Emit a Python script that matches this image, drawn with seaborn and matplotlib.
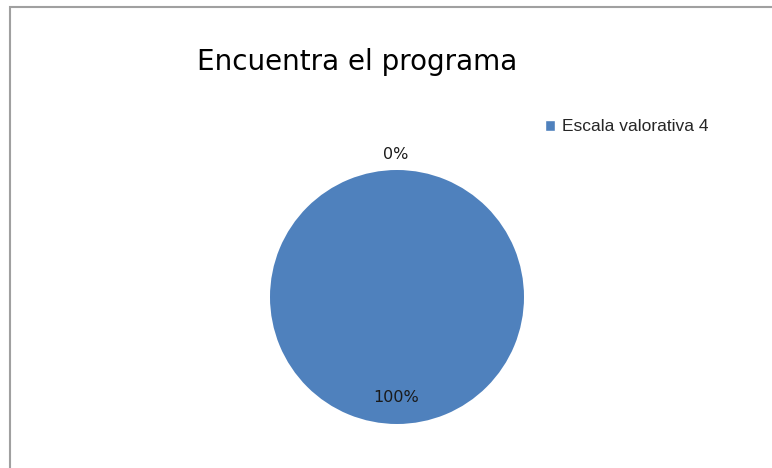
import numpy as np
import matplotlib
matplotlib.use("Agg")
import matplotlib.pyplot as plt
import seaborn as sns
from matplotlib.patches import Rectangle

title = "Encuentra el programa"
categories = ["Escala valorativa 3", "Escala valorativa 4"]
values = [0, 100]
legend_shown = ["Escala valorativa 4"]
pct_labels = ["0%", "100%"]

sns.set_theme(style="white")
plt.rcParams['font.family'] = ['DejaVu Sans']

W, H = 772, 468
fig = plt.figure(figsize=(W / 100, H / 100), dpi=100)
fig.patch.set_facecolor("white")

# chart border
fig.add_artist(Rectangle((10 / W, -0.1), 1.2, (H - 7) / H + 0.1, transform=fig.transFigure,
                         fill=False, edgecolor="#a0a0a0", linewidth=1.5))

cx, cy, r = 397, 297, 127
ax = fig.add_axes([(cx - r) / W, (H - cy - r) / H, 2 * r / W, 2 * r / H])
color = "#4f81bd"
wedges, _ = ax.pie(values, colors=["#c0504d", color], startangle=90, counterclock=False,
                   radius=1.0, wedgeprops=dict(linewidth=0))
ax.set_xlim(-1, 1)
ax.set_ylim(-1, 1)
ax.set_aspect("equal")
ax.axis("off")

for w, lab, v in zip(wedges, pct_labels, values):
    ang = np.deg2rad((w.theta1 + w.theta2) / 2)
    d = 1.12 if v == 0 else 0.79
    ax.text(d * np.cos(ang) - 0.01, d * np.sin(ang), lab, ha="center", va="center",
            fontsize=11.5, color="#1a1a1a", clip_on=False)

fig.text(357 / W, 1 - 62 / H, title, ha="center", va="center", fontsize=20, color="black")

# legend
handles = [Rectangle((0, 0), 1, 1, facecolor=color)]
leg = fig.legend(handles, legend_shown, loc="center left", bbox_to_anchor=(545 / W, 1 - 127 / H),
                 frameon=False, handlelength=0.55, handleheight=0.55, handletextpad=0.45,
                 borderpad=0, borderaxespad=0, prop={'family': 'Liberation Sans', 'size': 12.5})

fig.savefig("out.png", dpi=100)
